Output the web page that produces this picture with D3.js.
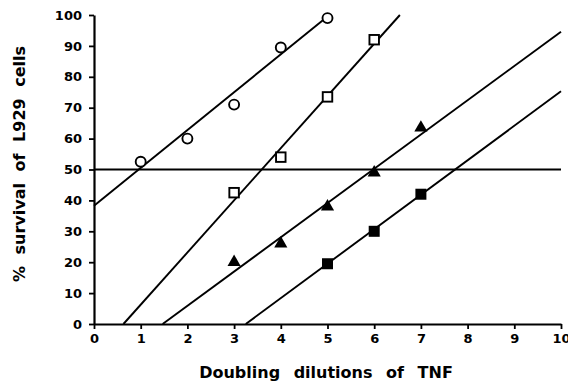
<!DOCTYPE html>
<html lang="en">
<head>
    <meta charset="UTF-8">
    <title>Survival of L929 cells</title>
    <style>
        body {
            margin: 0;
            padding: 0;
            background-color: #fff;
        }
        svg text {
            font-family: 'DejaVu Sans', Arial, sans-serif;
            font-weight: bold;
            fill: #000;
        }
    </style>
    <script src="https://d3js.org/d3.v7.min.js"></script>
</head>
<body>
    <div id="chart"></div>

    <script>
        // data
        var xTicks = [0, 1, 2, 3, 4, 5, 6, 7, 8, 9, 10];
        var yTicks = [0, 10, 20, 30, 40, 50, 60, 70, 80, 90, 100];

        var openCircles = [[1, 52.5], [2, 60], [3, 71], [4, 89.5], [5, 99]];
        var openSquares = [[3, 42.5], [4, 54], [5, 73.5], [6, 92]];
        var filledTriangles = [[3, 20], [4, 26], [5, 38], [6, 49], [7, 63.5]];
        var filledSquares = [[5, 19.5], [6, 30], [7, 42]];

        // fitted lines, start and end points
        var circleFit = [[0, 38.3], [5, 99.5]];
        var openSquareFit = [[0.63, 0], [6.55, 100]];
        var triangleFit = [[1.47, 0], [10, 94.6]];
        var filledSquareFit = [[3.25, 0], [10, 75.3]];
        var halfLine = [[0, 50], [10, 50]];

        var width = 568, height = 391;
        var margin = {left: 94, right: 7, top: 15, bottom: 67};

        var svg = d3.select('#chart')
            .append('svg')
            .attr('width', width)
            .attr('height', height);

        var x = d3.scaleLinear()
            .domain([0, 10])
            .range([margin.left, width - margin.right]);

        var y = d3.scaleLinear()
            .domain([0, 100])
            .range([height - margin.bottom, margin.top]);

        // axes
        var xAxis = svg.append('g')
            .attr('transform', 'translate(0,' + y(0) + ')')
            .call(d3.axisBottom(x).tickValues(xTicks).tickSize(5).tickPadding(5).tickSizeOuter(0));

        var yAxis = svg.append('g')
            .attr('transform', 'translate(' + x(0) + ',0)')
            .call(d3.axisLeft(y).tickValues(yTicks).tickSize(5).tickPadding(7).tickSizeOuter(0));

        [xAxis, yAxis].forEach(function (g) {
            g.select('.domain').attr('stroke', '#000').attr('stroke-width', 2.2);
            g.selectAll('.tick line').attr('stroke', '#000').attr('stroke-width', 1.8);
            g.selectAll('.tick text')
                .style('font-size', '13px')
                .style('font-weight', 'bold')
                .style('font-family', "'DejaVu Sans', Arial, sans-serif")
                .attr('fill', '#000');
        });

        // lines
        var line = d3.line()
            .x(function (d) { return x(d[0]); })
            .y(function (d) { return y(d[1]); });

        [halfLine, circleFit, openSquareFit, triangleFit, filledSquareFit].forEach(function (pts) {
            svg.append('path')
                .attr('d', line(pts))
                .attr('fill', 'none')
                .attr('stroke', '#000')
                .attr('stroke-width', 1.9);
        });

        // markers
        svg.selectAll('.circ')
            .data(openCircles)
            .enter()
            .append('circle')
            .attr('cx', function (d) { return x(d[0]); })
            .attr('cy', function (d) { return y(d[1]); })
            .attr('r', 5)
            .attr('fill', '#fff')
            .attr('stroke', '#000')
            .attr('stroke-width', 1.9);

        var sq = 9.5;
        svg.selectAll('.osq')
            .data(openSquares)
            .enter()
            .append('rect')
            .attr('x', function (d) { return x(d[0]) - sq / 2; })
            .attr('y', function (d) { return y(d[1]) - sq / 2; })
            .attr('width', sq)
            .attr('height', sq)
            .attr('fill', '#fff')
            .attr('stroke', '#000')
            .attr('stroke-width', 1.9);

        svg.selectAll('.fsq')
            .data(filledSquares)
            .enter()
            .append('rect')
            .attr('x', function (d) { return x(d[0]) - 5.5; })
            .attr('y', function (d) { return y(d[1]) - 5.5; })
            .attr('width', 11)
            .attr('height', 11)
            .attr('fill', '#000');

        svg.selectAll('.tri')
            .data(filledTriangles)
            .enter()
            .append('path')
            .attr('transform', function (d) { return 'translate(' + x(d[0]) + ',' + y(d[1]) + ')'; })
            .attr('d', d3.symbol().type(d3.symbolTriangle).size(75))
            .attr('fill', '#000');

        // axis titles
        svg.append('text')
            .attr('x', 326)
            .attr('y', 378)
            .attr('text-anchor', 'middle')
            .style('font-size', '16px')
            .style('word-spacing', '8px')
            .text('Doubling dilutions of TNF');

        svg.append('text')
            .attr('transform', 'translate(25,164) rotate(-90)')
            .attr('text-anchor', 'middle')
            .style('font-size', '16px')
            .style('word-spacing', '6px')
            .text('% survival of L929 cells');
    </script>
</body>
</html>
